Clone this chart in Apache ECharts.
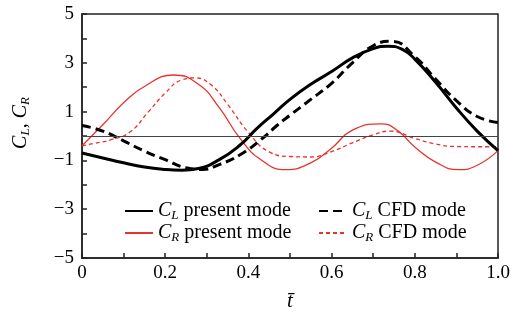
<!DOCTYPE html>
<html>
<head>
<meta charset="utf-8">
<script src="https://cdn.jsdelivr.net/npm/echarts@6/dist/echarts.min.js"></script>
<style>
html,body{margin:0;padding:0;background:#fff;}
#pic1{width:517px;height:317px;}
</style>
</head>
<body>
<div id="pic1"></div>
<script>
// C_L, present mode
var tClPresent = [0, 0.05, 0.1, 0.15, 0.2, 0.24, 0.28, 0.33, 0.38, 0.42, 0.46, 0.5, 0.55, 0.6, 0.65, 0.7, 0.735, 0.77, 0.8, 0.85, 0.9, 0.95, 1.0];
var clPresent = [-0.7, -0.9, -1.1, -1.27, -1.37, -1.4, -1.33, -0.97, -0.37, 0.3, 0.9, 1.5, 2.12, 2.64, 3.2, 3.58, 3.68, 3.55, 3.15, 2.2, 1.15, 0.2, -0.6];
// C_L, CFD mode
var tClCfd = [0, 0.05, 0.1, 0.15, 0.2, 0.25, 0.29, 0.33, 0.38, 0.43, 0.47, 0.5, 0.55, 0.6, 0.65, 0.7, 0.745, 0.8, 0.85, 0.9, 0.95, 1.0];
var clCfd = [0.43, 0.2, -0.2, -0.62, -0.97, -1.3, -1.37, -1.17, -0.77, -0.15, 0.45, 0.85, 1.5, 2.16, 3.0, 3.7, 3.88, 3.25, 2.33, 1.45, 0.8, 0.55];
// C_R, present mode
var tCrPresent = [0, 0.05, 0.1, 0.15, 0.22, 0.28, 0.33, 0.38, 0.43, 0.49, 0.55, 0.6, 0.65, 0.72, 0.76, 0.8, 0.85, 0.905, 0.95, 1.0];
var crPresent = [-0.4, 0.46, 1.36, 2.03, 2.5, 2.12, 1.16, -0.1, -0.97, -1.38, -1.1, -0.5, 0.24, 0.5, 0.2, -0.45, -1.07, -1.38, -1.2, -0.6];
// C_R, CFD mode
var tCrCfd = [0, 0.03, 0.07, 0.115, 0.16, 0.2, 0.24, 0.27, 0.31, 0.35, 0.4, 0.45, 0.5, 0.55, 0.6, 0.65, 0.7, 0.74, 0.8, 0.85, 0.9, 0.95, 1.0];
var crCfd = [-0.4, -0.3, -0.15, 0.16, 1.0, 1.76, 2.3, 2.38, 2.1, 1.3, 0.15, -0.65, -0.84, -0.86, -0.64, -0.28, 0.05, 0.2, -0.1, -0.33, -0.43, -0.44, -0.44];
var names = ['CL present', 'CR present', 'CL CFD', 'CR CFD'];

function pts(ts, vals) {
    return ts.map(function (t, i) { return [t, vals[i]]; });
}

var myChart = echarts.init(document.getElementById('pic1'));
var serif = 'Liberation Serif';
var subRich = {
    c: {fontFamily: serif, fontStyle: 'italic', fontSize: 20, color: '#000'},
    s: {fontFamily: serif, fontStyle: 'italic', fontSize: 13, color: '#000', verticalAlign: 'bottom', padding: [9, 0, 0, 0]},
    t: {fontFamily: serif, fontSize: 20, color: '#000'}
};

var option = {
    animation: false,
    backgroundColor: '#fff',
    grid: {left: 82, right: 19, top: 14, bottom: 53, show: true, borderColor: '#222', borderWidth: 1.5, backgroundColor: 'transparent'},
    legend: [
        {
            data: [names[0], names[1]],
            orient: 'vertical', left: 119, top: 196, itemGap: 1,
            itemWidth: 28, itemHeight: 14,
            itemStyle: {opacity: 0},
            formatter: function (n) {
                return n === names[0] ? '{c|C}{s|L}{t| present mode}' : '{c|C}{s|R}{t| present mode}';
            },
            textStyle: {rich: subRich}
        },
        {
            data: [names[2], names[3]],
            orient: 'vertical', left: 313, top: 196, itemGap: 1,
            itemWidth: 28, itemHeight: 14,
            itemStyle: {opacity: 0},
            formatter: function (n) {
                return n === names[2] ? '{c|C}{s|L}{t| CFD mode}' : '{c|C}{s|R}{t| CFD mode}';
            },
            textStyle: {rich: subRich}
        }
    ],
    xAxis: {
        type: 'value', min: 0, max: 1, interval: 0.2,
        name: 't\u0304', nameLocation: 'middle', nameGap: 33,
        nameTextStyle: {fontFamily: serif, fontStyle: 'italic', fontSize: 21, color: '#000'},
        axisLine: {onZero: false, lineStyle: {color: '#222', width: 1.5}},
        axisTick: {inside: true, length: 5, lineStyle: {color: '#222', width: 1.5}},
        minorTick: {show: true, splitNumber: 2, length: 5, lineStyle: {color: '#222', width: 1.5}},
        axisLabel: {
            fontFamily: serif, fontSize: 19, color: '#000', margin: 6,
            formatter: function (v) { return v === 0 ? '0' : v.toFixed(1); }
        },
        splitLine: {show: false}
    },
    yAxis: {
        type: 'value', min: -5, max: 5, interval: 1,
        name: '{c|C}{s|L}{t|, }{c|C}{s|R}', nameLocation: 'middle', nameGap: 50, nameRotate: 90,
        nameTextStyle: {padding: [0, 0, 0, 26], rich: {
            c: {fontFamily: serif, fontStyle: 'italic', fontSize: 20, color: '#000'},
            s: {fontFamily: serif, fontStyle: 'italic', fontSize: 13, color: '#000', verticalAlign: 'bottom', padding: [9, 0, 0, 0]},
            t: {fontFamily: serif, fontSize: 20, color: '#000'}
        }},
        axisLine: {show: true, onZero: false, lineStyle: {color: '#222', width: 1.5}},
        axisTick: {inside: true, length: 5, lineStyle: {color: '#222', width: 1.5}},
        axisLabel: {
            fontFamily: serif, fontSize: 19, color: '#000', margin: 8,
            formatter: function (v) {
                if (Math.abs(v) % 2 !== 1) return '';
                return v < 0 ? '\u2212' + Math.abs(v) : String(v);
            }
        },
        splitLine: {show: false}
    },
    series: [
        {
            name: names[0], type: 'line', smooth: 0.5, symbol: 'none', z: 4,
            data: pts(tClPresent, clPresent),
            lineStyle: {color: '#000', width: 3},
            itemStyle: {color: '#000'},
            markLine: {
                silent: true, symbol: 'none', label: {show: false},
                lineStyle: {color: '#444', width: 1.2, type: 'solid'},
                data: [{yAxis: 0}]
            }
        },
        {
            name: names[1], type: 'line', smooth: 0.5, symbol: 'none', z: 3,
            data: pts(tCrPresent, crPresent),
            lineStyle: {color: '#e8322e', width: 1.3},
            itemStyle: {color: '#e8322e'}
        },
        {
            name: names[2], type: 'line', smooth: 0.5, symbol: 'none', z: 4,
            data: pts(tClCfd, clCfd),
            lineStyle: {color: '#000', width: 3, type: [9, 5]},
            itemStyle: {color: '#000'}
        },
        {
            name: names[3], type: 'line', smooth: 0.5, symbol: 'none', z: 3,
            data: pts(tCrCfd, crCfd),
            lineStyle: {color: '#e8322e', width: 1.3, type: [4, 3]},
            itemStyle: {color: '#e8322e'}
        }
    ]
};

myChart.setOption(option);
</script>
</body>
</html>
